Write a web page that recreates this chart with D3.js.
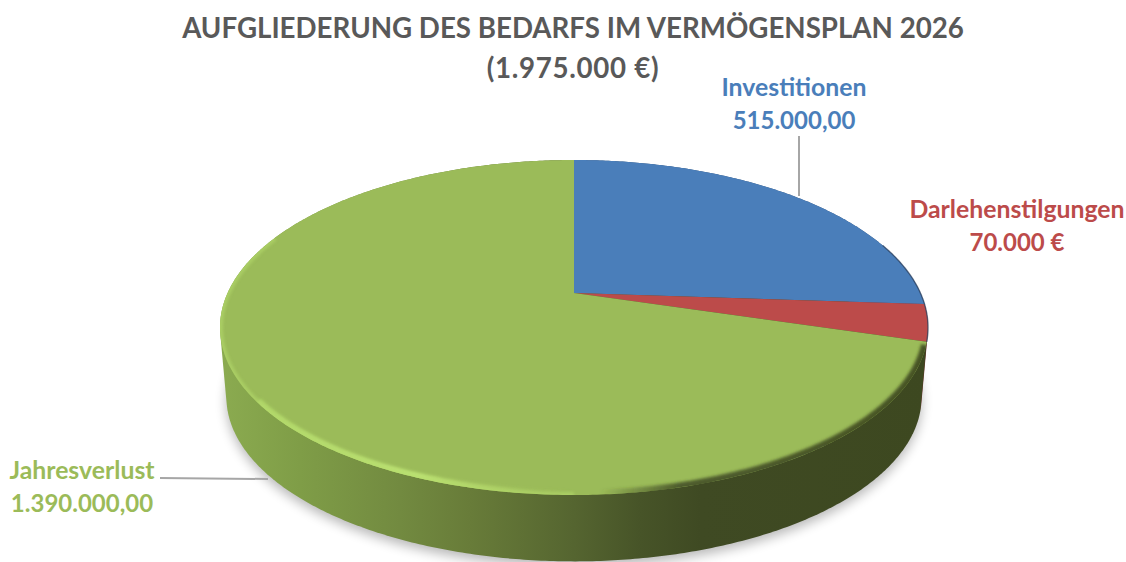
<!DOCTYPE html>
<html><head><meta charset="utf-8">
<script src="https://cdn.jsdelivr.net/npm/d3@7"></script>
<style>html,body{margin:0;padding:0;background:#fff}svg{display:block}text{font-family:Lato,"Open Sans",sans-serif;font-weight:700}</style>
</head><body><svg id="c" width="1126" height="562"></svg>
<script>
const categories = ["Investitionen","Darlehenstilgungen","Jahresverlust"];
const values = [515000,70000,1390000];
const valueLabels = ["515.000,00","70.000 €","1.390.000,00"];
const colors = ["#4a7eba","#bc4b4a","#9bbb59"];
const sideColors = ["#2f4f75","#6b2a28","url(#sideG)"];
const titleLines = ["AUFGLIEDERUNG DES BEDARFS IM VERMÖGENSPLAN 2026","(1.975.000 €)"];

const W=1126,H=562;
const svg=d3.select("#c");
const defs=svg.append("defs");
// perspective projection of the disc
const cx=574, cy=293, a=346.4, b=160.4, k=-0.206, depth=70, bottomScale=0.982;
function proj(t,level=0){
  const u=Math.sin(t), v=-Math.cos(t), w=1+k*v, s=level?bottomScale:1;
  return [cx+s*a*u/w, cy+level*depth+s*b*v/w];
}
const line=d3.line();
function arcPts(t0,t1,level){
  const n=Math.max(2,Math.ceil(Math.abs(t1-t0)/0.01));
  return d3.range(n+1).map(i=>proj(t0+(t1-t0)*i/n,level));
}
const arcs=d3.pie().sort(null)(values);

function grad(id,stops){
  const g=defs.append("linearGradient").attr("id",id).attr("gradientUnits","userSpaceOnUse")
    .attr("x1",220).attr("x2",928).attr("y1",0).attr("y2",0);
  stops.forEach(s=>g.append("stop").attr("offset",(s[0]-220)/708).attr("stop-color",s[1]).attr("stop-opacity",s[2]??1));
}
grad("sideG",[[220,"#8bab50"],[300,"#7f9d47"],[400,"#728a40"],[470,"#687c39"],[574,"#556530"],[640,"#475428"],[700,"#3f4a23"],[928,"#3d4820"]]);
grad("rimG",[[220,"#a9cf62"],[300,"#b4da6c"],[420,"#bfe575"],[500,"#aed066",0.7],[570,"#9bbb59",0],[600,"#3f4a23",0],[680,"#3f4a23",0.85],[928,"#3d4820",0.9]]);
defs.append("filter").attr("id","shadow").attr("x","-10%").attr("y","-10%").attr("width","120%").attr("height","120%")
  .append("feGaussianBlur").attr("stdDeviation",6);
defs.append("filter").attr("id","rimBlur").attr("x","-5%").attr("y","-5%").attr("width","110%").attr("height","110%")
  .append("feGaussianBlur").attr("stdDeviation",1.4);
defs.append("clipPath").attr("id","topClip").append("path")
  .attr("d",line(arcPts(0,2*Math.PI,0))+"Z");

// shadow below the disc
svg.append("path").attr("d",line(arcPts(0,2*Math.PI,1))+"Z")
  .attr("transform","translate(0,5)").attr("fill","#000").attr("opacity",0.28).attr("filter","url(#shadow)");

// side walls
[0,1,2].forEach(i=>{
  const d=arcs[i];
  const pts=arcPts(d.startAngle,d.endAngle,0).concat(arcPts(d.endAngle,d.startAngle,1));
  svg.append("path").attr("d",line(d3.polygonHull(pts))+"Z").attr("fill",sideColors[i]);
});

// top face slices
svg.append("g").selectAll("path").data(arcs).join("path")
  .attr("d",d=>line([[cx,cy]].concat(arcPts(d.startAngle,d.endAngle,0)))+"Z")
  .attr("fill",(d,i)=>colors[i]);

// bevel on the rim
const g=svg.append("g").attr("clip-path","url(#topClip)");
g.append("path").attr("d",line(arcPts(arcs[2].startAngle+0.02,arcs[2].startAngle+(arcs[2].endAngle-arcs[2].startAngle)*0.5,0)))
  .attr("fill","none").attr("stroke","url(#rimG)").attr("stroke-width",10).attr("filter","url(#rimBlur)");
svg.append("path").attr("d",line(arcPts(Math.PI,1.62*Math.PI,0)))
  .attr("fill","none").attr("stroke","#b4da6c").attr("stroke-width",6).attr("opacity",0.6).attr("filter","url(#rimBlur)").attr("clip-path","url(#topClip)");
svg.append("path").attr("d",line(arcPts(1.25,arcs[1].endAngle,0)))
  .attr("fill","none").attr("stroke","#2b3f5c").attr("stroke-width",1.4).attr("opacity",0.7);

// leader lines
svg.append("line").attr("x1",799).attr("x2",799).attr("y1",136).attr("y2",196).attr("stroke","#a6a6a6").attr("stroke-width",2);
svg.append("line").attr("x1",160).attr("x2",268).attr("y1",478).attr("y2",479).attr("stroke","#a6a6a6").attr("stroke-width",2);

// text
svg.append("g").selectAll("text").data(titleLines).join("text")
  .attr("x",573).attr("y",(d,i)=>38+i*40).attr("text-anchor","middle")
  .attr("font-size",27.7).attr("letter-spacing",(d,i)=>i?0.7:0).attr("fill","#595959").text(d=>d);
const labelAnchors=[[794,96],[1017,218],[82,479]];
categories.forEach((c,i)=>{
  const [x,y]=labelAnchors[i];
  svg.append("text").attr("x",x).attr("y",y).attr("text-anchor","middle").attr("font-size",24.8).attr("fill",colors[i]).text(c);
  svg.append("text").attr("x",x).attr("y",y+33).attr("text-anchor","middle").attr("font-size",24).attr("fill",colors[i]).text(valueLabels[i]);
});
</script></body></html>
